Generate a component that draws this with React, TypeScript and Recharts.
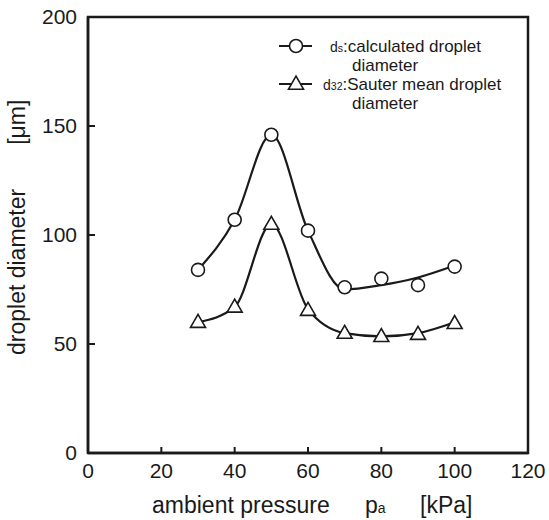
import React from 'react';
import {
  ComposedChart, Line, XAxis, YAxis, ReferenceArea, Label,
} from 'recharts';

const pressures = [30, 40, 50, 60, 70, 80, 90, 100];
const dsMeasured = [84, 107, 146, 102, 76, 80, 77, 85.5];
const d32Measured = [60, 67, 105, 65.5, 55, 53.5, 54.5, 59.5];
const dsFit = [84, 107, 146, 102, 75, 77, 80.5, 86];
const d32Fit = [60, 67, 105, 66, 55, 53.5, 55, 60];
const xTicks = [0, 20, 40, 60, 80, 100, 120];
const yTicks = [0, 50, 100, 150, 200];
const legendPrefix = ['d', 'd'];
const legendSub = ['s', '32'];
const legendMain = ['calculated droplet', 'Sauter mean droplet'];
const legendSecond = ['diameter', 'diameter'];

const dsData = pressures.map((x, i) => ({ x, y: dsMeasured[i] }));
const d32Data = pressures.map((x, i) => ({ x, y: d32Measured[i] }));
const dsFitData = pressures.map((x, i) => ({ x, y: dsFit[i] }));
const d32FitData = pressures.map((x, i) => ({ x, y: d32Fit[i] }));

const FONT = '"Liberation Sans", Arial, Helvetica, sans-serif';
const INK = '#1a1a1a';

const circleAt = (cx: number, cy: number, key?: any) => (
  <circle key={key} cx={cx} cy={cy} r={6.5} fill="#fff" stroke={INK} strokeWidth={1.6} />
);
const triAt = (cx: number, cy: number, key?: any) => {
  const w = 7.5, h = 13;
  const pts = `${cx},${cy - h * 0.6} ${cx - w},${cy + h * 0.4} ${cx + w},${cy + h * 0.4}`;
  return <polygon key={key} points={pts} fill="#fff" stroke={INK} strokeWidth={1.6} />;
};

const CircleDot = (props: any) => {
  const { cx, cy, index } = props;
  if (cx == null || cy == null) return <g key={index} />;
  return circleAt(cx, cy, index);
};

const TriDot = (props: any) => {
  const { cx, cy, index } = props;
  if (cx == null || cy == null) return <g key={index} />;
  return triAt(cx, cy, index);
};

const XTick = (props: any) => {
  const { x, y, payload } = props;
  const v = payload.value;
  const inner = v !== 0 && v !== 120;
  return (
    <g>
      {inner && <line x1={x} x2={x} y1={y - 8} y2={y - 14} stroke={INK} strokeWidth={2} />}
      <text x={x} y={y + 17} textAnchor="middle" fontSize={21} fontFamily={FONT} fill={INK}>{v}</text>
    </g>
  );
};

const YTick = (props: any) => {
  const { x, y, payload } = props;
  const v = payload.value;
  const inner = v !== 0 && v !== 200;
  return (
    <g>
      {inner && <line x1={x + 11} x2={x + 18} y1={y} y2={y} stroke={INK} strokeWidth={2} />}
      <text x={x} y={y + 7} textAnchor="end" fontSize={21} fontFamily={FONT} fill={INK}>{v}</text>
    </g>
  );
};

const rows = [46, 84];
const LegendBox = () => (
  <svg width={549} height={520} style={{ position: 'absolute', left: 0, top: 0, pointerEvents: 'none' }}>
    {rows.map((ry, i) => (
      <g key={i}>
        <line x1={279} x2={312} y1={ry} y2={ry} stroke={INK} strokeWidth={2.2} />
        {i === 0 ? circleAt(296, ry) : triAt(296, ry)}
        <text x={i === 0 ? 330 : 323} y={ry + 6} fontFamily={FONT} fill={INK} fontSize={14}>
          {legendPrefix[i]}
          <tspan fontSize={10.5}>{legendSub[i]}</tspan>
          <tspan fontSize={17}>:{legendMain[i]}</tspan>
        </text>
        <text x={352} y={ry + 25} fontFamily={FONT} fill={INK} fontSize={17}>{legendSecond[i]}</text>
      </g>
    ))}
  </svg>
);

const YLabel = () => (
  <text transform="translate(25,355) rotate(-90)" textAnchor="start" fontSize={23} fontFamily={FONT} fill={INK}>
    <tspan>droplet diameter</tspan>
    <tspan dx={44}>[μm]</tspan>
  </text>
);

const XLabel = () => (
  <text x={152} y={513} fontSize={23} fontFamily={FONT} fill={INK}>
    <tspan>ambient pressure</tspan>
    <tspan x={365}>p</tspan>
    <tspan fontSize={14}>a</tspan>
    <tspan x={420}>[kPa]</tspan>
  </text>
);

export default function App() {
  return (
    <div style={{ position: 'absolute', left: 0, top: 0, width: 549, height: 520, background: '#fff' }}>
      <ComposedChart width={549} height={520} margin={{ top: 17, right: 21, bottom: 0, left: 0 }}>
        <XAxis
          type="number"
          dataKey="x"
          domain={[0, 120]}
          ticks={xTicks}
          tick={<XTick />}
          tickLine={false}
          tickSize={0}
          tickMargin={8}
          height={67}
          axisLine={{ stroke: INK, strokeWidth: 2.5 }}
          allowDataOverflow
        >
          <Label content={<XLabel />} />
        </XAxis>
        <YAxis
          type="number"
          dataKey="y"
          domain={[0, 200]}
          ticks={yTicks}
          tick={<YTick />}
          tickLine={false}
          tickSize={0}
          tickMargin={11}
          width={88}
          axisLine={{ stroke: INK, strokeWidth: 2.5 }}
          allowDataOverflow
        >
          <Label content={<YLabel />} />
        </YAxis>
        <ReferenceArea x1={0} x2={120} y1={0} y2={200} fill="none" stroke={INK} strokeWidth={2.5} ifOverflow="visible" />
        <Line data={dsFitData} dataKey="y" type="monotone" stroke={INK} strokeWidth={2.2} dot={false} activeDot={false} isAnimationActive={false} legendType="none" name="ds fit" />
        <Line data={d32FitData} dataKey="y" type="monotone" stroke={INK} strokeWidth={2.2} dot={false} activeDot={false} isAnimationActive={false} legendType="none" name="d32 fit" />
        <Line data={dsData} dataKey="y" stroke="none" dot={<CircleDot />} activeDot={false} isAnimationActive={false} name="ds:calculated droplet diameter" />
        <Line data={d32Data} dataKey="y" stroke="none" dot={<TriDot />} activeDot={false} isAnimationActive={false} name="d32:Sauter mean droplet diameter" />
      </ComposedChart>
      <LegendBox />
    </div>
  );
}
